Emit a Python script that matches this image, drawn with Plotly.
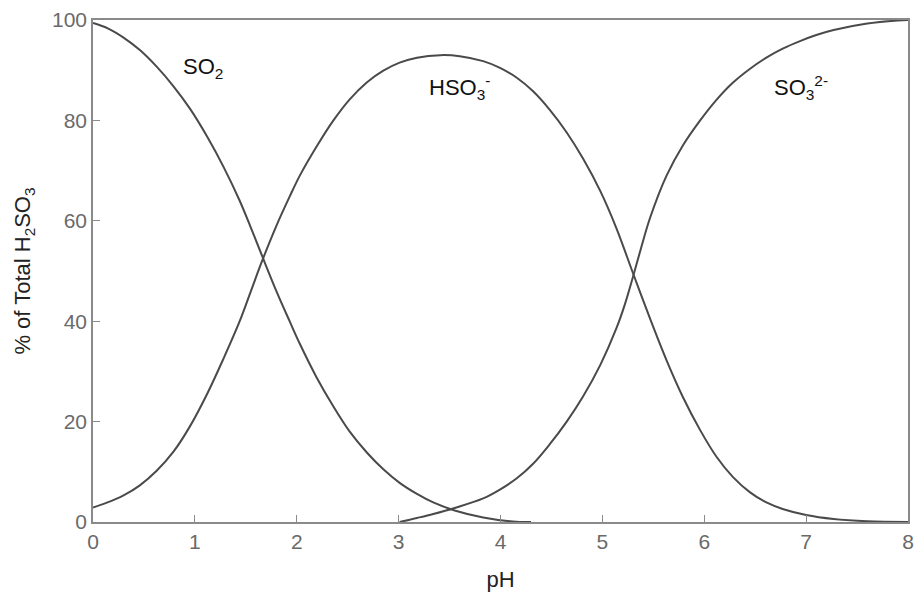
import plotly.graph_objects as go

# pH values and % of total H2SO3
ph_so2 = [0.0, 0.15, 0.30, 0.46, 0.625, 0.79, 0.95, 1.12, 1.28, 1.44, 1.55, 1.66, 1.80, 1.93,
          2.03, 2.195, 2.36, 2.52, 2.69, 2.85, 3.01, 3.18, 3.34, 3.55, 3.83, 4.12, 4.3]
so2 = [99.4, 98.3, 96.5, 94.0, 90.7, 86.8, 82.4, 76.8, 70.8, 64.0, 58.6, 53.0, 46.0, 40.0,
       35.5, 28.8, 23.0, 18.0, 13.8, 10.5, 7.8, 5.6, 3.9, 2.3, 0.9, 0.1, 0.0]

ph_hso3 = [0.0, 0.13, 0.30, 0.46, 0.625, 0.79, 0.95, 1.12, 1.28, 1.44, 1.55, 1.66, 1.80, 1.93,
           2.03, 2.195, 2.36, 2.52, 2.69, 2.85, 3.01, 3.18, 3.41, 3.60, 3.83, 3.99, 4.16, 4.32,
           4.48, 4.65, 4.81, 4.98, 5.14, 5.30, 5.47, 5.63, 5.79, 5.96, 6.12, 6.28, 6.45, 6.61,
           6.77, 7.0, 7.27, 7.6, 8.0]
hso3 = [2.9, 3.8, 5.3, 7.3, 10.2, 14.0, 19.0, 25.5, 32.5, 40.0, 46.0, 52.0, 59.0, 64.8,
        69.0, 74.8, 80.0, 84.2, 87.6, 89.9, 91.5, 92.5, 93.0, 92.8, 91.8, 90.5, 88.5, 85.8,
        82.2, 77.6, 72.4, 65.9, 58.4, 49.6, 40.4, 32.2, 24.9, 18.3, 13.0, 9.0, 5.9, 3.9,
        2.6, 1.4, 0.6, 0.15, 0.0]

ph_so3 = [3.01, 3.18, 3.34, 3.55, 3.83, 3.99, 4.16, 4.32, 4.48, 4.65, 4.81, 4.98, 5.14, 5.22,
          5.30, 5.38, 5.47, 5.63, 5.79, 5.96, 6.12, 6.28, 6.45, 6.61, 6.77, 6.94, 7.10, 7.27,
          7.6, 7.9, 8.0]
so3 = [0.0, 0.8, 1.6, 2.8, 4.7, 6.4, 8.7, 11.6, 15.4, 20.0, 25.0, 31.3, 38.7, 43.3,
       48.8, 54.6, 60.7, 69.0, 75.0, 80.0, 84.1, 87.5, 90.3, 92.5, 94.3, 95.8, 97.0, 98.0,
       99.3, 99.9, 100.0]

x_ticks = [0, 1, 2, 3, 4, 5, 6, 7, 8]
y_ticks = [0, 20, 40, 60, 80, 100]

labels = ["SO<sub>2</sub>", "HSO<sub>3</sub><sup>-</sup>", "SO<sub>3</sub><sup>2-</sup>"]
label_x = [1.08, 3.6, 6.95]
label_y = [90.5, 86.5, 86.5]

curve_color = "#4a4a4a"
axis_color = "#8a8a8a"
font_family = "Liberation Sans, Arial, sans-serif"

fig = go.Figure()
for xs, ys in [(ph_so2, so2), (ph_hso3, hso3), (ph_so3, so3)]:
    fig.add_trace(go.Scatter(x=xs, y=ys, mode="lines",
                             line=dict(color=curve_color, width=2, shape="spline", smoothing=1.0),
                             hoverinfo="skip", showlegend=False))

for t, xx, yy in zip(labels, label_x, label_y):
    fig.add_annotation(x=xx, y=yy, text=t, showarrow=False,
                       font=dict(family=font_family, size=22, color="#111111"))

fig.update_layout(
    width=915, height=596,
    margin=dict(l=93, r=7, t=20, b=74),
    paper_bgcolor="white", plot_bgcolor="white",
    font=dict(family=font_family),
)
fig.update_xaxes(
    range=[0, 8], tickvals=x_ticks, ticks="inside", ticklen=7, tickwidth=1.2,
    tickcolor=axis_color, showline=True, linecolor=axis_color, linewidth=1.5, mirror=True,
    showgrid=False, zeroline=False, automargin=False,
    tickfont=dict(family=font_family, size=21, color="#6a6a6a"),
    title=dict(text="pH", font=dict(family=font_family, size=22, color="#222222"), standoff=20),
)
fig.update_yaxes(
    range=[0, 100], tickvals=y_ticks, ticks="inside", ticklen=7, tickwidth=1.2,
    tickcolor=axis_color, showline=True, linecolor=axis_color, linewidth=1.5, mirror=True,
    showgrid=False, zeroline=False, automargin=False,
    tickfont=dict(family=font_family, size=21, color="#6a6a6a"),
    title=dict(text="% of Total H<sub>2</sub>SO<sub>3</sub>",
               font=dict(family=font_family, size=22, color="#222222"), standoff=15),
)

fig.write_html("out.html", config={"displayModeBar": False},
               post_script="document.body.style.margin='0';document.body.style.overflow='hidden';")
